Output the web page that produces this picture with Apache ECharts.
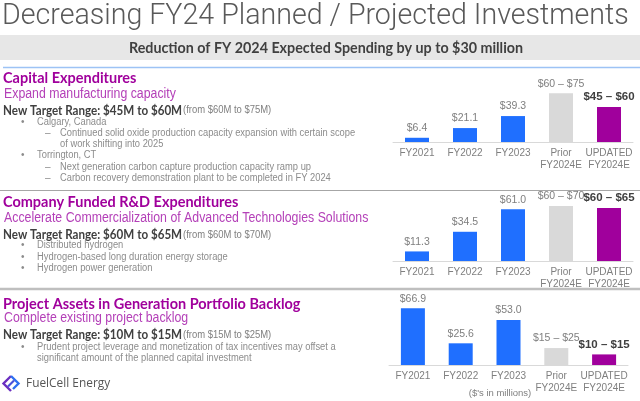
<!DOCTYPE html>
<html>
<head>
<meta charset="utf-8">
<script src="https://cdn.jsdelivr.net/npm/echarts@6/dist/echarts.min.js"></script>
<style>
html,body{margin:0;padding:0;background:#fff;}
#c{width:640px;height:401px;}
</style>
</head>
<body>
<div id="c"></div>
<script>
// ---- data ----
const categories = ['FY2021', 'FY2022', 'FY2023', 'Prior\nFY2024E', 'UPDATED\nFY2024E'];
const capexValues = [6.4, 21.1, 39.3, 74, 53];
const capexLabels = ['$6.4', '$21.1', '$39.3', '$60 – $75', '$45 – $60'];
const rdValues = [11.3, 34.5, 61.0, 65, 62.5];
const rdLabels = ['$11.3', '$34.5', '$61.0', '$60 – $70', '$60 – $65'];
const projValues = [66.9, 25.6, 53.0, 20, 12.5];
const projLabels = ['$66.9', '$25.6', '$53.0', '$15 – $25', '$10 – $15'];
const barColors = ['#1f6fff', '#1f6fff', '#1f6fff', '#d9d9d9', '#a0009c'];

const SANS = '"Liberation Sans", Arial, sans-serif';
const CAL = 'Lato, "Open Sans", sans-serif';

function buildData(values, labels) {
  return values.map((v, i) => ({
    value: v,
    itemStyle: { color: barColors[i] },
    label: i === values.length - 1
      ? { formatter: labels[i], fontWeight: 'bold', fontSize: 11.5, color: '#404040' }
      : { formatter: labels[i] }
  }));
}

const grids = [
  { left: 393, width: 240, top: 142 - 52.8, height: 52.8 },
  { left: 393, width: 240, top: 261 - 59.3, height: 59.3 },
  { left: 389, width: 239, top: 365 - 59.3, height: 59.3 }
];
const maxes = [80, 70, 70];

const xAxes = grids.map((g, i) => ({
  type: 'category', gridIndex: i, data: categories,
  axisLine: { lineStyle: { color: '#d9d9d9', width: 1 } },
  axisTick: { show: false },
  axisLabel: { color: '#7f7f7f', fontSize: 10, fontFamily: SANS, lineHeight: 12, margin: 5, interval: 0 }
}));
const yAxes = grids.map((g, i) => ({
  type: 'value', gridIndex: i, min: 0, max: maxes[i], show: false, splitLine: { show: false }
}));
const seriesData = [[capexValues, capexLabels], [rdValues, rdLabels], [projValues, projLabels]];
const series = seriesData.map((d, i) => ({
  type: 'bar', xAxisIndex: i, yAxisIndex: i, barWidth: 24,
  data: buildData(d[0], d[1]),
  label: { show: true, position: 'top', distance: 4, color: '#7f7f7f', fontSize: 10.5, fontFamily: SANS },
  silent: true, animation: false
}));

function txt(x, y, text, opts) {
  const o = Object.assign({}, opts || {});
  const sx = o.sx || 1; delete o.sx;
  return {
    type: 'text', x: x, y: y, scaleX: sx, silent: true,
    style: Object.assign({
      text: text, fill: '#8c8c8c', fontSize: 10, fontFamily: SANS,
      verticalAlign: 'middle', align: 'left'
    }, o)
  };
}
const HEAD = { fill: '#a0009c', fontSize: 16, fontWeight: 'bold', fontFamily: CAL, sx: 0.905 };
const SUB = { fill: '#b440b8', fontSize: 14, fontFamily: SANS, sx: 0.88 };
const TGT = { fill: '#404040', fontSize: 14, fontWeight: 'bold', fontFamily: CAL, sx: 0.83 };
const FROM = { fill: '#808080', fontSize: 10.5, fontFamily: SANS, sx: 0.9 };
const BUL = { fill: '#8c8c8c', fontSize: 10, fontFamily: SANS, sx: 0.935 };
const DOT = { fill: '#8c8c8c', fontSize: 10, fontFamily: SANS };

const graphics = [
  // title
  txt(2, 17, 'Decreasing FY24 Planned / Projected Investments', { fill: '#595959', fontSize: 28.6, fontFamily: 'Roboto, sans-serif', fontWeight: 300 }),
  { type: 'rect', shape: { x: 0, y: 35, width: 640, height: 25 }, style: { fill: '#e7e7e7' }, silent: true },
  txt(326, 48, 'Reduction of FY 2024 Expected Spending by up to $30 million', { fill: '#404040', fontSize: 14.3, fontWeight: 'bold', fontFamily: CAL, align: 'center' }),
  { type: 'line', shape: { x1: 3, y1: 67.5, x2: 640, y2: 67.5 }, style: { stroke: '#9dc3f5', lineWidth: 1.5 }, silent: true },
  { type: 'line', shape: { x1: 0, y1: 190.5, x2: 640, y2: 190.5 }, style: { stroke: '#a6a6a6', lineWidth: 1 }, silent: true },
  { type: 'line', shape: { x1: 0, y1: 289, x2: 640, y2: 289 }, style: { stroke: '#bfbfbf', lineWidth: 2.5 }, silent: true },

  // section 1
  txt(3, 78, 'Capital Expenditures', HEAD),
  txt(4, 94.5, 'Expand manufacturing capacity', SUB),
  txt(3, 110, 'New Target Range: $45M to $60M', TGT),
  txt(183, 110.5, '(from $60M to $75M)', FROM),
  txt(21, 122.5, '•', DOT), txt(37, 122.5, 'Calgary, Canada', BUL),
  txt(45, 133.5, '–', DOT), txt(60, 133.5, 'Continued solid oxide production capacity expansion with certain scope', BUL),
  txt(60, 144.5, 'of work shifting into 2025', BUL),
  txt(21, 155.5, '•', DOT), txt(37, 155.5, 'Torrington, CT', BUL),
  txt(45, 167, '–', DOT), txt(60, 167, 'Next generation carbon capture production capacity ramp up', BUL),
  txt(45, 178.5, '–', DOT), txt(60, 178.5, 'Carbon recovery demonstration plant to be completed in FY 2024', BUL),

  // section 2
  txt(3, 202, 'Company Funded R&D Expenditures', HEAD),
  txt(4, 218.5, 'Accelerate Commercialization of Advanced Technologies Solutions', SUB),
  txt(3, 234.5, 'New Target Range: $60M to $65M', TGT),
  txt(183, 235, '(from $60M to $70M)', FROM),
  txt(21, 245.5, '•', DOT), txt(37, 245.5, 'Distributed hydrogen', BUL),
  txt(21, 257, '•', DOT), txt(37, 257, 'Hydrogen-based long duration energy storage', BUL),
  txt(21, 268.5, '•', DOT), txt(37, 268.5, 'Hydrogen power generation', BUL),

  // section 3
  txt(3, 303.5, 'Project Assets in Generation Portfolio Backlog', HEAD),
  txt(4, 318.5, 'Complete existing project backlog', SUB),
  txt(3, 334.5, 'New Target Range: $10M to $15M', TGT),
  txt(183, 335, '(from $15M to $25M)', FROM),
  txt(21, 347.5, '•', DOT), txt(37, 347.5, 'Prudent project leverage and monetization of tax incentives may offset a', BUL),
  txt(37, 358, 'significant amount of the planned capital investment', BUL),

  txt(500, 393, "($'s in millions)", { fill: '#7f7f7f', fontSize: 9.5, fontFamily: SANS, align: 'center' }),

  // logo
  { type: 'polyline', shape: { points: [[11, 376], [3.5, 383.5], [11, 391]] }, style: { stroke: '#6b2fc0', lineWidth: 2.4, fill: null }, silent: true },
  { type: 'polyline', shape: { points: [[11, 376], [18.5, 383.5], [13, 389]] }, style: { stroke: '#2f6ff0', lineWidth: 2.4, fill: null }, silent: true },
  { type: 'line', shape: { x1: 8, y1: 386.5, x2: 14, y2: 380.5 }, style: { stroke: '#4a50d8', lineWidth: 2.2 }, silent: true },
  txt(26, 383.5, 'FuelCell Energy', { fill: '#555555', fontSize: 13.5, fontFamily: '"Open Sans", sans-serif', sx: 0.88 })
];

const chart = echarts.init(document.getElementById('c'), null, { renderer: 'canvas' });
chart.setOption({
  backgroundColor: '#ffffff',
  animation: false,
  grid: grids,
  xAxis: xAxes,
  yAxis: yAxes,
  series: series,
  graphic: graphics
});
</script>
</body>
</html>
